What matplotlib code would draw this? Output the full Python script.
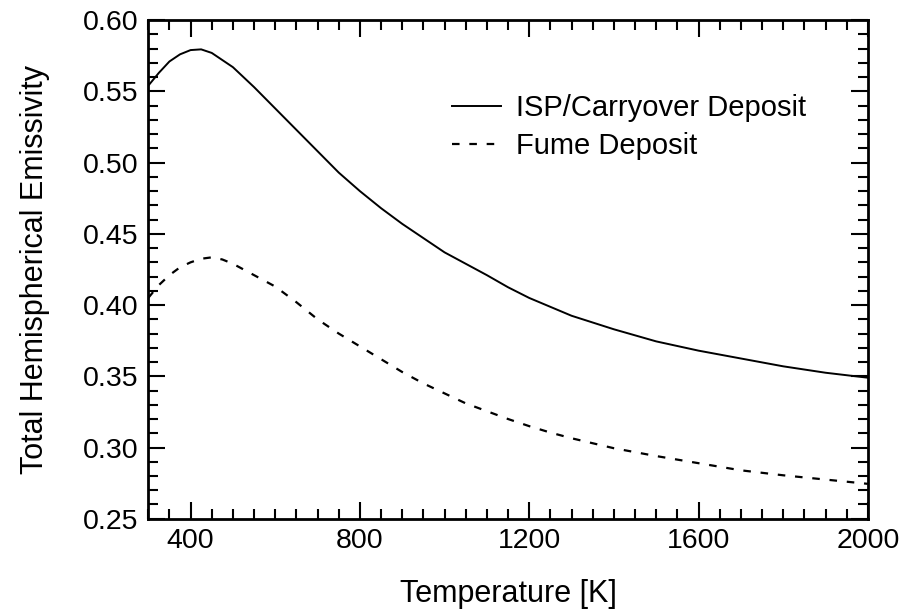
import matplotlib
matplotlib.use('Agg')
import matplotlib.pyplot as plt
from matplotlib.ticker import MultipleLocator

# Temperature [K] and emissivity values
temp_isp = [300, 325, 350, 375, 400, 425, 450, 475, 500, 550, 600, 650, 700, 750, 800,
            850, 900, 950, 1000, 1050, 1100, 1150, 1200, 1300, 1400, 1500, 1600, 1700,
            1800, 1900, 2000]
emis_isp = [0.554, 0.563, 0.571, 0.576, 0.579, 0.5795, 0.577, 0.572, 0.567, 0.553,
            0.538, 0.523, 0.508, 0.493, 0.480, 0.468, 0.457, 0.447, 0.437, 0.429,
            0.421, 0.4125, 0.405, 0.3925, 0.383, 0.3745, 0.368, 0.3625, 0.357,
            0.3525, 0.349]

temp_fume = [300, 325, 350, 375, 400, 425, 450, 475, 500, 550, 600, 650, 700, 750,
             800, 850, 900, 950, 1000, 1050, 1100, 1150, 1200, 1250, 1300, 1400, 1500,
             1600, 1700, 1800, 1900, 2000]
emis_fume = [0.405, 0.414, 0.421, 0.4265, 0.430, 0.4325, 0.4335, 0.432, 0.429, 0.421,
             0.413, 0.402, 0.390, 0.380, 0.371, 0.362, 0.353, 0.345, 0.338, 0.331,
             0.3255, 0.320, 0.315, 0.3105, 0.3065, 0.2995, 0.294, 0.289, 0.284,
             0.2805, 0.2775, 0.2745]

labels = ['ISP/Carryover Deposit', 'Fume Deposit']

plt.rcParams['font.family'] = ['Liberation Sans', 'DejaVu Sans']

fig = plt.figure(figsize=(9.04, 6.11), dpi=100)
ax = fig.add_axes([0.164, 0.151, 0.796, 0.816])

ax.plot(temp_isp, emis_isp, color='black', lw=1.4, label=labels[0])
ax.plot(temp_fume, emis_fume, color='black', lw=1.6, dashes=(3.4, 4.4), label=labels[1])

ax.set_xlim(300, 2000)
ax.set_ylim(0.25, 0.60)
ax.xaxis.set_major_locator(MultipleLocator(400))
ax.xaxis.set_minor_locator(MultipleLocator(50))
ax.yaxis.set_major_locator(MultipleLocator(0.05))
ax.yaxis.set_minor_locator(MultipleLocator(0.01))
ax.yaxis.set_major_formatter(plt.FormatStrFormatter('%.2f'))

ax.tick_params(which='both', direction='in', top=True, right=True, width=1.5,
               labelsize=20.5, pad=7)
ax.tick_params(which='major', length=12)
ax.tick_params(which='minor', length=7)
for s in ax.spines.values():
    s.set_linewidth(2)

ax.set_xlabel('Temperature [K]', fontsize=22, labelpad=18)
ax.set_ylabel('Total Hemispherical Emissivity', fontsize=22, labelpad=24)

ax.legend(loc='upper left', bbox_to_anchor=(0.385, 0.905), frameon=False,
          fontsize=21, handlelength=1.7, handletextpad=0.5, labelspacing=0.35)

plt.savefig('out.png', dpi=100)
plt.close()
